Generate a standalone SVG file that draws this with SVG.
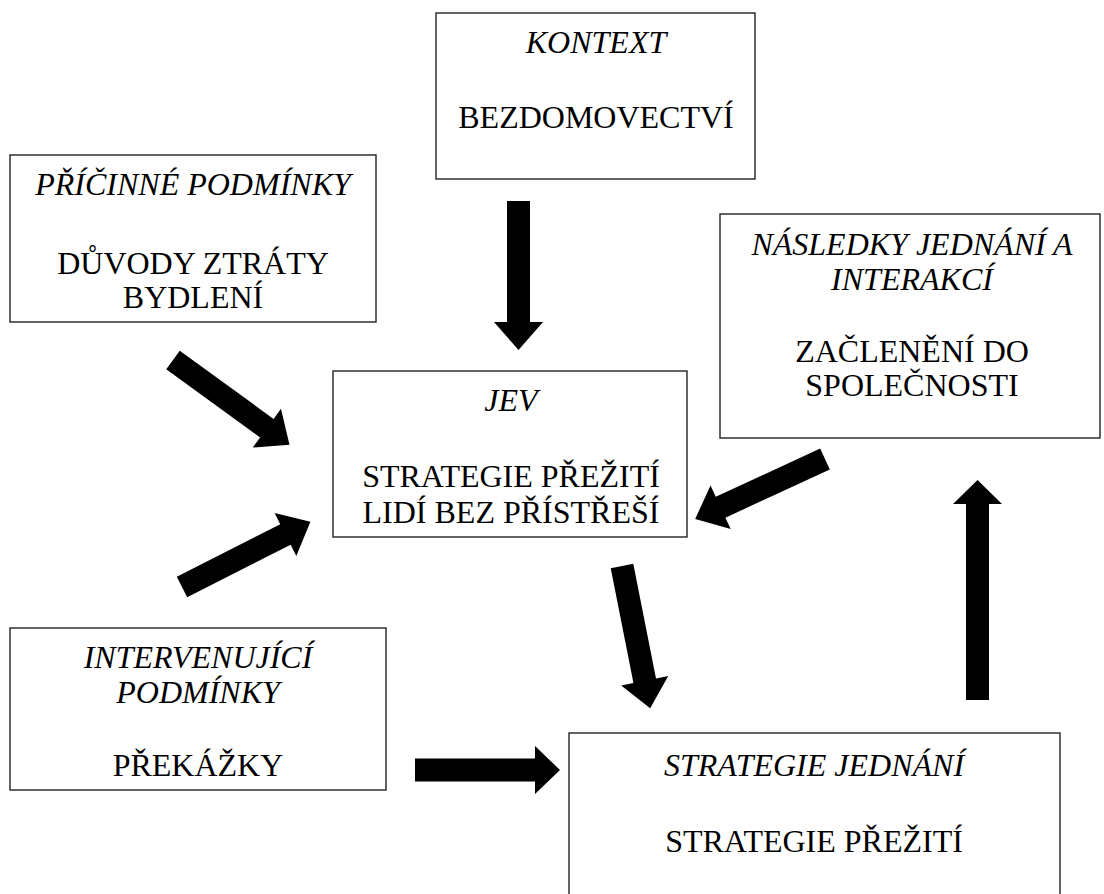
<svg xmlns="http://www.w3.org/2000/svg" width="1104" height="894" viewBox="0 0 1104 894">
<defs>
<style>
.box{fill:#fff;stroke:#222;stroke-width:1.4}
.t{font-family:"Liberation Serif","Times New Roman",serif;font-size:32px;fill:#000;text-anchor:middle}
.i{font-style:italic}
.arr{fill:#000}
</style>
</defs>
<rect width="1104" height="894" fill="#fff"/>
<g id="kontext">
<rect class="box" x="436" y="13" width="319" height="166"/>
<text class="t i" x="596" y="53">KONTEXT</text>
<text class="t" x="596" y="128">BEZDOMOVECTVÍ</text>
</g>
<g id="pricinne">
<rect class="box" x="10" y="155" width="366" height="167"/>
<text class="t i" x="193" y="195">PŘÍČINNÉ PODMÍNKY</text>
<text class="t" x="193" y="274">DŮVODY ZTRÁTY</text>
<text class="t" x="193" y="308">BYDLENÍ</text>
</g>
<g id="nasledky">
<rect class="box" x="720" y="214" width="380" height="224"/>
<text class="t i" x="912" y="255">NÁSLEDKY JEDNÁNÍ A</text>
<text class="t i" x="912" y="290">INTERAKCÍ</text>
<text class="t" x="912" y="362">ZAČLENĚNÍ DO</text>
<text class="t" x="912" y="396">SPOLEČNOSTI</text>
</g>
<g id="jev">
<rect class="box" x="333" y="371" width="354" height="166"/>
<text class="t i" x="511" y="411">JEV</text>
<text class="t" x="511" y="487">STRATEGIE PŘEŽITÍ</text>
<text class="t" x="511" y="523">LIDÍ BEZ PŘÍSTŘEŠÍ</text>
</g>
<g id="intervenujici">
<rect class="box" x="10" y="628" width="376" height="162"/>
<text class="t i" x="198" y="668">INTERVENUJÍCÍ</text>
<text class="t i" x="198" y="703">PODMÍNKY</text>
<text class="t" x="198" y="776">PŘEKÁŽKY</text>
</g>
<g id="strategie">
<rect class="box" x="569" y="733" width="491" height="200"/>
<text class="t i" x="814" y="776">STRATEGIE JEDNÁNÍ</text>
<text class="t" x="814" y="852">STRATEGIE PŘEŽITÍ</text>
</g>
<g id="connectors" class="arr">
<polygon points="507,201 530,201 530,322 543,322 518.5,350 494,322 507,322"/>
<polygon points="0,-11.5 116,-11.5 116,-24 144,0 116,24 116,11.5 0,11.5" transform="translate(173,360) rotate(36)"/>
<polygon points="0,-11.5 116,-11.5 116,-24 144,0 116,24 116,11.5 0,11.5" transform="translate(182,587) rotate(-26.9)"/>
<polygon points="0,-11.5 115,-11.5 115,-24 143,0 115,24 115,11.5 0,11.5" transform="translate(825,459) rotate(155.2)"/>
<polygon points="0,-11.5 117,-11.5 117,-24 145,0 117,24 117,11.5 0,11.5" transform="translate(622,566) rotate(78.8)"/>
<polygon points="415,758.5 535,758.5 535,746 560,770 535,794 535,781.5 415,781.5"/>
<polygon points="966,700 989,700 989,504 1002,504 977.5,480 953,504 966,504"/>
</g>
</svg>
